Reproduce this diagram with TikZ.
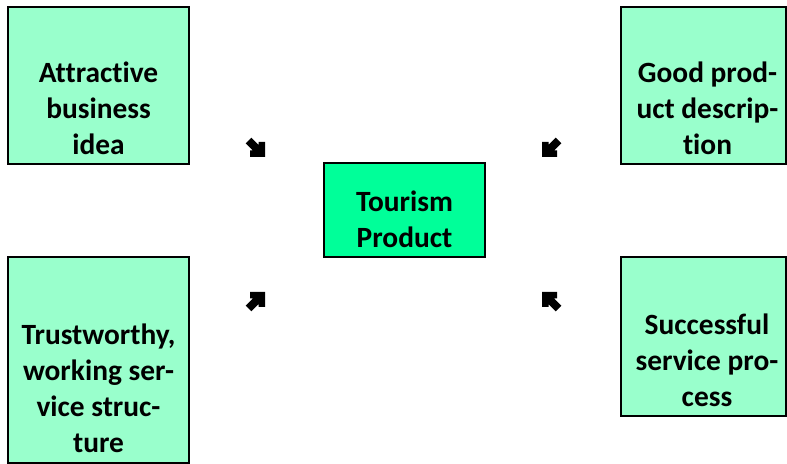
\documentclass[tikz,border=0pt]{standalone}
\usepackage{fontspec}
\setmainfont{Carlito}[Ligatures={NoCommon,NoContextual}]
\definecolor{lightmint}{HTML}{99FFCC}
\definecolor{brightmint}{HTML}{00FF99}
\begin{document}
\begin{tikzpicture}[x=1bp,y=-1bp,
  box/.style={draw=black, line width=2bp, fill=lightmint, inner sep=0pt, outer sep=0pt},
  corebox/.style={box, fill=brightmint},
  txt/.style={align=center, inner sep=0pt, anchor=south,
    font=\fontsize{29.5}{36}\selectfont\bfseries},
  bigarrow/.pic={\fill[black] (0,0) -- (0,-15) -- (-6.5,-15) -- (-6.5,-12.2)
     -- (-13.7,-19.3) -- (-19.3,-13.7) -- (-12.2,-6.5) -- (-15,-6.5) -- (-15,0) -- cycle;}]
\useasboundingbox (0,0) rectangle (787,464);
% boxes
\node[box, minimum width=181bp, minimum height=157bp] (tl) at (98.5,85.5) {};
\node[box, minimum width=165bp, minimum height=157bp] (tr) at (703.5,85.5) {};
\node[box, minimum width=181bp, minimum height=206bp] (bl) at (98.5,360) {};
\node[box, minimum width=165bp, minimum height=159bp] (br) at (703.5,336.5) {};
\node[corebox, minimum width=161bp, minimum height=94bp] (core) at (404.5,210) {};
% texts
\node[txt] (tltext) at ([yshift=9bp]tl.south) {Attract\kern0pt ive\\business\\idea};
\node[txt] (trtext) at ([xshift=4bp,yshift=9bp]tr.south) {Good prod-\\uct descrip-\\t\kern0pt ion};
\node[txt] (bltext) at ([yshift=10bp]bl.south) {Trustworthy,\\working ser-\\vice struc-\\ture};
\node[txt] (brtext) at ([xshift=3.5bp,yshift=9bp]br.south) {Successful\\service pro-\\cess};
\node[txt] (coretext) at ([yshift=9bp]core.south) {Tourism\\Product};
% arrow glyphs
\coordinate (atl) at (265,157);
\coordinate (atr) at (542,157);
\coordinate (abl) at (265,292);
\coordinate (abr) at (542,292);
\pic at (atl) {bigarrow};
\pic[xscale=-1] at (atr) {bigarrow};
\pic[yscale=-1] at (abl) {bigarrow};
\pic[xscale=-1,yscale=-1] at (abr) {bigarrow};
\end{tikzpicture}
\end{document}
